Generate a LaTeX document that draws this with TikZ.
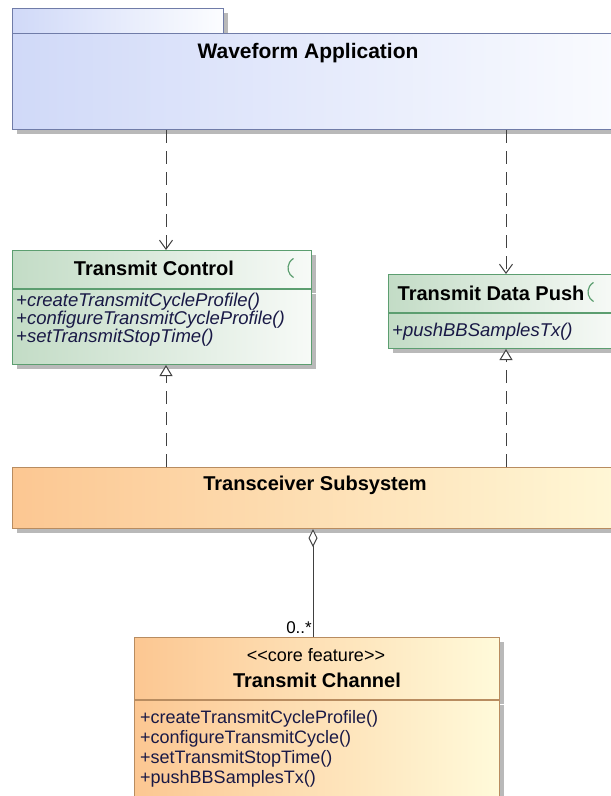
\documentclass[tikz,border=0pt]{standalone}
\usepackage{fontspec}
\newfontfamily\umlfont[Ligatures=TeXOff]{Liberation Sans}
\usepackage{xcolor}
\usetikzlibrary{arrows.meta, positioning, shadows}

\definecolor{pkgleft}{RGB}{208,217,248}
\definecolor{pkgright}{RGB}{252,253,255}
\definecolor{pkgline}{RGB}{112,124,168}
\definecolor{ifleft}{RGB}{195,220,198}
\definecolor{ifright}{RGB}{247,250,247}
\definecolor{ifline}{RGB}{92,158,112}
\definecolor{subleft}{RGB}{252,199,146}
\definecolor{subright}{RGB}{255,250,218}
\definecolor{subline}{RGB}{184,140,96}
\definecolor{optext}{RGB}{25,25,70}
\definecolor{edge}{RGB}{64,64,64}

\tikzset{
  umlshadow/.style={drop shadow={shadow xshift=4pt, shadow yshift=-4pt, fill=black!50, opacity=0.55}},
  pkgbox/.style={draw=pkgline, line width=1pt, left color=pkgleft, right color=pkgright, umlshadow, inner sep=0pt, anchor=north west},
  ifbox/.style={draw=ifline, line width=1pt, left color=ifleft, right color=ifright, umlshadow, inner sep=0pt, anchor=north west},
  subbox/.style={draw=subline, line width=1pt, left color=subleft, right color=subright, umlshadow, inner sep=0pt, anchor=north west},
  boxtitle/.style={font={\umlfont\fontsize{20}{22}\selectfont\bfseries}, text=black, inner sep=0pt},
  stereo/.style={font={\umlfont\fontsize{18}{20}\selectfont}, text=black, inner sep=0pt},
  ifop/.style={font={\umlfont\fontsize{18.5}{20}\selectfont\itshape}, text=optext, inner sep=0pt, anchor=base west},
  chanop/.style={font={\umlfont\fontsize{18}{20}\selectfont}, text=optext, inner sep=0pt, anchor=base west},
  iface/.style={draw=ifline, line width=1.2pt},
  dep/.style={draw=edge, line width=1pt, dash pattern=on 13pt off 8pt, -{Straight Barb[length=9pt, width=13pt]}},
  realize/.style={draw=edge, line width=1pt, dash pattern=on 13pt off 8pt, -{Triangle[open, fill=white, length=11pt, width=13pt]}},
  aggr/.style={draw=edge, line width=1pt, {Diamond[open, fill=white, length=18pt, width=9pt]}-},
}

\begin{document}
\begin{tikzpicture}[x=1pt, y=-1pt]
  \useasboundingbox (0,0) rectangle (611,796);
  \clip (0,0) rectangle (611,796);
  \fill[white] (0,0) rectangle (611,796);

  % package
  \node[pkgbox, minimum width=211pt, minimum height=25pt] (pkgtab) at (12,8) {};
  \node[pkgbox, minimum width=640pt, minimum height=96pt] (waveform) at (12,33) {};
  \node[boxtitle, font={\umlfont\fontsize{21}{22}\selectfont\bfseries}] (wavetitle) at (308,53) {Waveform Application};

  % interfaces
  \node[ifbox, minimum width=299pt, minimum height=38pt] (ctrlhead) at (12,250) {};
  \node[ifbox, minimum width=299pt, minimum height=75pt] (ctrlops) at (ctrlhead.south west) {};
  \node[boxtitle] (ctrltitle) at (154,268) {Transmit Control};
  \draw[iface] (299,268) ++(120:11) arc[start angle=120, end angle=240, radius=11];
  \foreach \op [count=\i] in {createTransmitCycleProfile(), configureTransmitCycleProfile(), setTransmitStopTime()}
    \node[ifop] (ctrlop\i) at (16, {300+18*(\i-1)+6}) {+\op};

  \node[ifbox, minimum width=228pt, minimum height=38pt] (pushhead) at (388,274) {};
  \node[ifbox, minimum width=228pt, minimum height=35pt] (pushops) at (pushhead.south west) {};
  \node[boxtitle] (pushtitle) at (491,293) {Transmit Data Push};
  \draw[iface] (599,292) ++(120:11) arc[start angle=120, end angle=240, radius=11];
  \node[ifop] (pushop) at (392,336) {+pushBBSamplesTx()};

  % subsystem
  \node[subbox, minimum width=640pt, minimum height=61pt] (trx) at (12,467) {};
  \node[boxtitle] (trxtitle) at (315,485) {Transceiver Subsystem};

  \node[subbox, minimum width=365pt, minimum height=62pt] (chanhead) at (134,637) {};
  \node[subbox, minimum width=365pt, minimum height=110pt] (chanops) at (chanhead.south west) {};
  \node[stereo] (chanstereo) at (316,655) {<<core feature>>};
  \node[boxtitle] (chantitle) at (317,680) {Transmit Channel};
  \foreach \op [count=\i] in {createTransmitCycleProfile(), configureTransmitCycle(), setTransmitStopTime(), pushBBSamplesTx()}
    \node[chanop] (chanop\i) at (140, {717+20*(\i-1)+6}) {+\op};

  % connectors
  \coordinate (leftrail) at (166,0);
  \coordinate (rightrail) at (506,0);
  \coordinate (midrail) at (313,0);
  \draw[dep] (waveform.south -| leftrail) -- (ctrlhead.north -| leftrail);
  \draw[dep] (waveform.south -| rightrail) -- (pushhead.north -| rightrail);
  \draw[realize] (trx.north -| leftrail) -- (ctrlops.south -| leftrail);
  \draw[realize] (trx.north -| rightrail) -- (pushops.south -| rightrail);
  \draw[aggr] (trx.south -| midrail) -- (chanhead.north -| midrail);
  \node[stereo, font={\umlfont\fontsize{17}{18}\selectfont}, anchor=base east] (chanmult) at (312,633) {0..*};
\end{tikzpicture}
\end{document}
